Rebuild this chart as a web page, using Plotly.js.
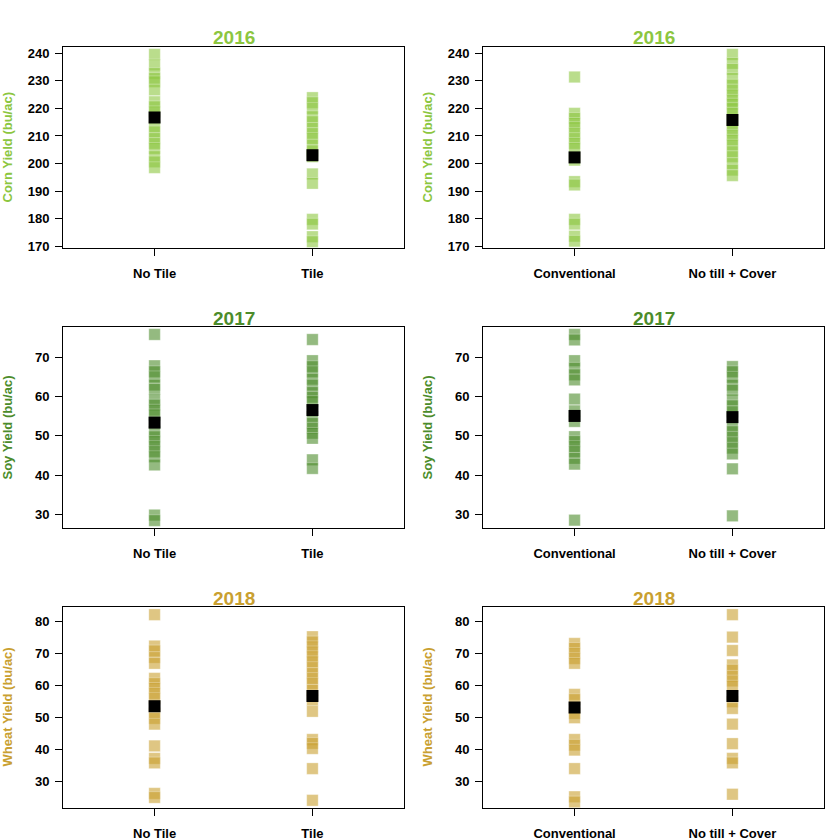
<!DOCTYPE html>
<html>
<head>
<meta charset="utf-8">
<script src="https://cdn.plot.ly/plotly-3.0.1.min.js"></script>
<style>html,body{margin:0;padding:0;background:#fff;}#chart{width:840px;height:840px;}</style>
</head>
<body>
<div id="chart"></div>
<script>
// ---- data ----
var tileLabels = ["No Tile", "Tile"];
var tillLabels = ["Conventional", "No till + Cover"];
var years = ["2016", "2017", "2018"];
var cropTitles = ["Corn Yield (bu/ac)", "Soy Yield (bu/ac)", "Wheat Yield (bu/ac)"];
var yearColors = ["140,198,63", "76,140,43", "201,160,48"];

var corn2016NoTile = [239.6, 235.8, 232.7, 230.9, 229.7, 226.7, 222.4, 220.6, 218.8, 213.4, 211.5, 209.1, 207.3, 205.5, 202.5, 200.6, 198.5];
var corn2016Tile = [223.9, 222.1, 220.0, 217.0, 215.2, 212.8, 210.9, 209.1, 206.7, 204.6, 202.5, 196.2, 192.8, 179.7, 178.0, 173.4, 171.6];
var corn2016Conv = [231.4, 218.2, 216.4, 214.6, 213.1, 210.9, 209.1, 207.3, 205.5, 201.2, 193.4, 192.2, 179.7, 178.0, 173.6, 171.8];
var corn2016NoTill = [239.6, 236.4, 234.2, 230.9, 228.5, 226.7, 224.9, 223.0, 221.6, 220.0, 218.2, 214.0, 212.1, 210.3, 208.5, 206.7, 204.3, 202.5, 200.0, 197.6, 195.6];

var soy2017NoTile = [75.9, 67.9, 66.4, 65.1, 63.0, 61.9, 59.2, 57.9, 56.6, 55.4, 51.1, 49.8, 48.6, 47.3, 46.0, 44.7, 42.6, 29.8, 28.4];
var soy2017Tile = [74.6, 69.2, 67.7, 66.4, 64.5, 63.0, 61.1, 59.9, 58.8, 54.9, 53.2, 52.0, 50.7, 49.4, 43.9, 41.7];
var soy2017Conv = [75.9, 74.5, 69.2, 67.3, 65.6, 64.3, 59.4, 56.4, 53.7, 49.8, 48.6, 47.3, 46.0, 44.3, 42.8, 28.5];
var soy2017NoTill = [67.7, 66.4, 65.0, 63.0, 61.7, 59.2, 57.7, 56.2, 52.6, 51.1, 49.7, 48.3, 46.9, 45.4, 41.6, 29.6];

var wheat2018NoTile = [82.1, 72.3, 70.8, 68.75, 66.9, 62.2, 60.6, 59.1, 57.5, 55.9, 51.25, 49.7, 47.9, 41.1, 37.2, 35.8, 26.25, 25.0];
var wheat2018Tile = [75.2, 73.6, 72.1, 70.5, 69.0, 67.4, 65.6, 63.75, 62.2, 60.6, 58.5, 55.4, 51.9, 43.1, 41.9, 40.3, 34.0, 24.1];
var wheat2018Conv = [73.1, 71.6, 70.0, 68.4, 66.9, 57.2, 55.6, 51.25, 49.9, 43.1, 41.35, 39.8, 34.0, 25.2, 23.6];
var wheat2018NoTill = [82.1, 75.1, 70.9, 66.4, 64.8, 62.9, 61.4, 59.8, 54.9, 52.8, 47.9, 41.8, 37.2, 35.8, 26.0];

// group means (black squares)
var meanTile = [[216.7, 203.0], [53.4, 56.6], [53.5, 56.7]];
var meanTill = [[202.2, 215.8], [55.1, 54.8], [53.1, 56.7]];

var yTickVals = [[170,180,190,200,210,220,230,240],[30,40,50,60,70],[30,40,50,60,70,80]];
var yRanges = [[169.3, 242.3], [26.5, 77.8], [21.7, 84.5]];

// ---- build figure ----
var panels = [
  {row:0, col:0, groups:[corn2016NoTile, corn2016Tile], means:meanTile[0], labels:tileLabels},
  {row:0, col:1, groups:[corn2016Conv, corn2016NoTill], means:meanTill[0], labels:tillLabels},
  {row:1, col:0, groups:[soy2017NoTile, soy2017Tile], means:meanTile[1], labels:tileLabels},
  {row:1, col:1, groups:[soy2017Conv, soy2017NoTill], means:meanTill[1], labels:tillLabels},
  {row:2, col:0, groups:[wheat2018NoTile, wheat2018Tile], means:meanTile[2], labels:tileLabels},
  {row:2, col:1, groups:[wheat2018Conv, wheat2018NoTill], means:meanTill[2], labels:tillLabels}
];

var W = 840, H = 840;
var colX = [[63, 404], [483, 824]];
var rowY = [[47, 248], [327, 528], [607, 808]];
var fontFam = "Liberation Sans, Arial, Helvetica, sans-serif";

var traces = [];
var layout = {
  width: W, height: H,
  margin: {l:0, r:0, t:0, b:0},
  paper_bgcolor: "#fff", plot_bgcolor: "#fff",
  showlegend: false,
  font: {family: fontFam, size: 13, color: "#000"},
  annotations: []
};

panels.forEach(function(p, i) {
  var n = i + 1;
  var xa = "x" + (n === 1 ? "" : n), ya = "y" + (n === 1 ? "" : n);
  var col = "rgb(" + yearColors[p.row] + ")";
  p.groups.forEach(function(vals, g) {
    traces.push({
      type: "scatter", mode: "markers",
      x: vals.map(function(){ return g + 1; }), y: vals,
      xaxis: xa, yaxis: ya,
      marker: {symbol: "square", size: 11.5,
        color: "rgba(" + yearColors[p.row] + ",0.6)",
        line: {color: "rgba(255,255,255,0.6)", width: 0.5}},
      hoverinfo: "y"
    });
  });
  traces.push({
    type: "scatter", mode: "markers",
    x: [1, 2], y: p.means, xaxis: xa, yaxis: ya,
    marker: {symbol: "square", size: 12, color: "#000", line: {width: 0}},
    hoverinfo: "y"
  });
  var cx = colX[p.col], ry = rowY[p.row];
  var axCommon = {
    showline: true, mirror: true, linecolor: "#000", linewidth: 1,
    ticks: "outside", ticklen: 7, tickwidth: 1, tickcolor: "#000",
    showgrid: false, zeroline: false, fixedrange: true,
    tickfont: {family: fontFam, size: 13, color: "#000", weight: "bold"}
  };
  layout["xaxis" + (n === 1 ? "" : n)] = Object.assign({}, axCommon, {
    domain: [cx[0] / W, cx[1] / W],
    range: [0.42, 2.58],
    tickvals: [1, 2], ticktext: p.labels,
    anchor: ya, ticklabelstandoff: 6
  });
  layout["yaxis" + (n === 1 ? "" : n)] = Object.assign({}, axCommon, {
    domain: [1 - ry[1] / H, 1 - ry[0] / H],
    range: yRanges[p.row],
    tickvals: yTickVals[p.row],
    anchor: xa, ticklabelstandoff: 3
  });
  layout.annotations.push({
    xref: "paper", yref: "paper",
    x: ((cx[0] + cx[1]) / 2) / W, y: 1 - (ry[0] - 9) / H,
    xanchor: "center", yanchor: "middle", showarrow: false,
    text: years[p.row],
    font: {family: fontFam, size: 19, color: col, weight: "bold"}
  });
  layout.annotations.push({
    xref: "paper", yref: "paper",
    x: (cx[0] - 56) / W, y: 1 - ((ry[0] + ry[1]) / 2) / H,
    xanchor: "center", yanchor: "middle", showarrow: false, textangle: -90,
    text: cropTitles[p.row],
    font: {family: fontFam, size: 13, color: col, weight: "bold"}
  });
});

Plotly.newPlot("chart", traces, layout, {displayModeBar: false, staticPlot: true});
</script>
</body>
</html>
